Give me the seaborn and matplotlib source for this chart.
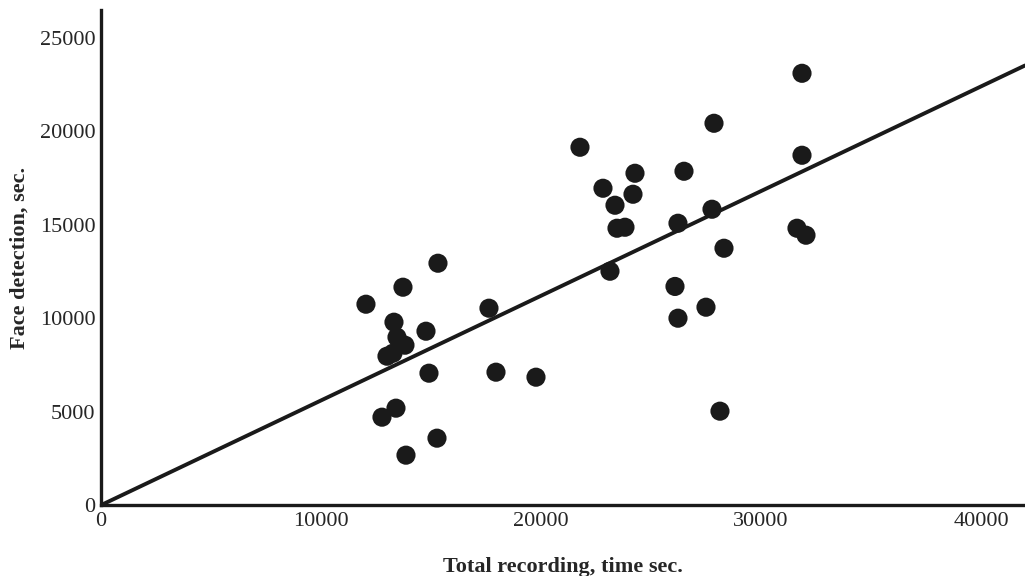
"""
Scatter of face detection time against total recording time, with a
proportional fit line through the origin.
"""
import numpy as np
import pandas as pd
import matplotlib
matplotlib.use('Agg')
import matplotlib.pyplot as plt
import seaborn as sns

# recording sessions (seconds)
total_recording = [12045, 12773, 13000, 13273, 13318, 13409, 13455, 13727, 13818,
                   13864, 14773, 14909, 15273, 15318, 17636, 17955, 19773, 21773,
                   22818, 23136, 23364, 23455, 23818, 24182, 24273, 26091, 26227,
                   26227, 26500, 27500, 27773, 27864, 28136, 28318, 31636, 31864,
                   31864, 32045]
face_detection = [10749, 4706, 7968, 8129, 9787, 5188, 8985, 11659, 8557,
                  2674, 9305, 7059, 3583, 12942, 10536, 7113, 6845, 19146,
                  16953, 12514, 16044, 14814, 14867, 16632, 17755, 11700, 15081,
                  10001, 17862, 10589, 15830, 20429, 5027, 13744, 14814, 23103,
                  18718, 14440]

# fit line through the origin (slope)
line_slope = 0.56

x_ticks = [0, 10000, 20000, 30000, 40000]
y_ticks = [0, 5000, 10000, 15000, 20000, 25000]


def main():
    sns.set_style('white')
    plt.rcParams['font.family'] = ['Liberation Serif', 'DejaVu Serif']

    df = pd.DataFrame({'total': total_recording, 'face': face_detection})

    fig = plt.figure(figsize=(10.25, 5.76), dpi=100)
    ax = fig.add_axes([0.0985, 0.123, 0.9015, 0.86])

    xmax = 42000
    line_x = np.array([0, xmax])
    ax.plot(line_x, line_slope * line_x, color='#1a1a1a', lw=2.8, zorder=2)

    sns.scatterplot(data=df, x='total', y='face', s=190, color='#1a1a1a',
                    edgecolor='none', ax=ax, zorder=3)

    ax.set_xlim(0, xmax)
    ax.set_ylim(0, 26500)
    ax.set_xticks(x_ticks)
    ax.set_yticks(y_ticks)
    ax.set_xticklabels([str(t) for t in x_ticks], fontsize=16)
    ax.set_yticklabels([str(t) for t in y_ticks], fontsize=16)
    ax.tick_params(axis='both', length=0)
    ax.tick_params(axis='y', pad=4)
    ax.tick_params(axis='x', pad=5)

    ax.set_xlabel('Total recording, time sec.', fontsize=16, fontweight='bold',
                  labelpad=19)
    ax.set_ylabel('Face detection, sec.', fontsize=16, fontweight='bold',
                  labelpad=7)

    sns.despine(ax=ax)
    for side in ['left', 'bottom']:
        ax.spines[side].set_linewidth(2.4)
        ax.spines[side].set_color('#1a1a1a')

    fig.savefig('out.png', dpi=100)


if __name__ == '__main__':
    main()
